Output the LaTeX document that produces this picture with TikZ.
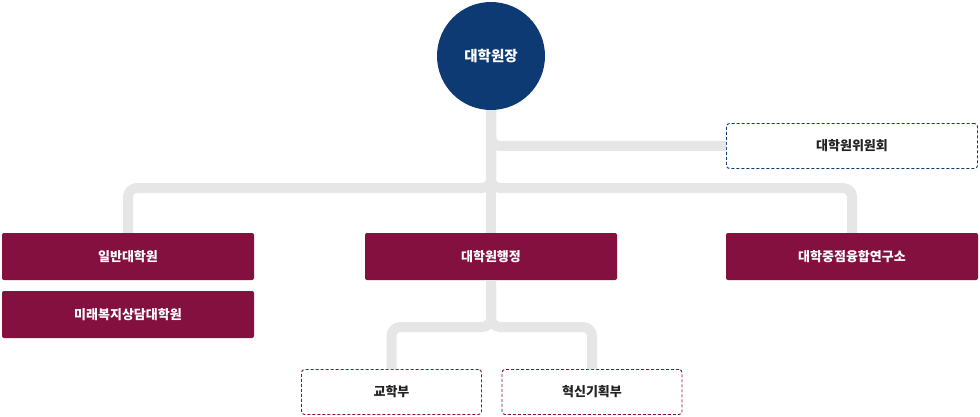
\documentclass[tikz,border=0pt]{standalone}
\usepackage{fontspec}
\setmainfont{Noto Sans CJK KR}
\usepackage{tikz}
\usetikzlibrary{positioning}

\definecolor{navyblue}{HTML}{0E3A74}
\definecolor{wine}{HTML}{83103F}
\definecolor{linegray}{HTML}{E6E6E6}
\definecolor{darktext}{HTML}{222222}

\begin{document}
\begin{tikzpicture}[x=1pt, y=-1pt]
    % Define styles
    \tikzstyle{head} = [circle, fill=navyblue, text=white, minimum size=108pt, inner sep=0pt, font=\fontsize{14.5}{16}\selectfont\bfseries]
    \tikzstyle{unit} = [rectangle, fill=wine, text=white, minimum width=252pt, minimum height=47pt, inner sep=0pt, rounded corners=2pt, font=\fontsize{13}{15}\selectfont\bfseries]
    \tikzstyle{council} = [rectangle, draw=navyblue, line width=0.9pt, dash pattern=on 3pt off 2pt, fill=white, text=darktext, minimum width=251pt, minimum height=45pt, inner sep=0pt, rounded corners=3pt, font=\fontsize{13}{15}\selectfont\bfseries]
    \tikzstyle{office} = [rectangle, draw=wine, line width=0.9pt, dash pattern=on 3pt off 2pt, fill=white, text=darktext, minimum width=180pt, minimum height=45pt, inner sep=0pt, rounded corners=3pt, font=\fontsize{13}{15}\selectfont\bfseries]
    \tikzstyle{link} = [draw=linegray, line width=10pt, rounded corners=9pt]

    \useasboundingbox (0,0) rectangle (980,417);

    % Dean and committee
    \node [head] (dean) at (491,56) {대학원장};
    \node [council] (committee) at (852,146) {대학원위원회};

    % Graduate schools and administration
    \node [unit] (general) at (128,256.5) {일반대학원};
    \node [unit] (welfare) at (128,314.5) {미래복지상담대학원};
    \node [unit] (admin) at (491,256.5) {대학원행정};
    \node [unit] (institute) at (852,256.5) {대학중점융합연구소};

    % Administration offices
    \node [office] (affairs) at (391.5,392) {교학부};
    \node [office] (planning) at (592,392) {혁신기획부};

    % Connectors
    \coordinate (hub) at (491,188);
    \coordinate (split) at (491,327);
    \draw [link] (dean.south) |- (committee.west);
    \draw [link] (general.north) |- (hub) -- (dean.south);
    \draw [link] (institute.north) |- (hub) -- (dean.south);
    \draw [link] (dean.south) -- (admin.north);
    \draw [link] (affairs.north) |- (split) -- (admin.south);
    \draw [link] (planning.north) |- (split) -- (admin.south);
\end{tikzpicture}
\end{document}
